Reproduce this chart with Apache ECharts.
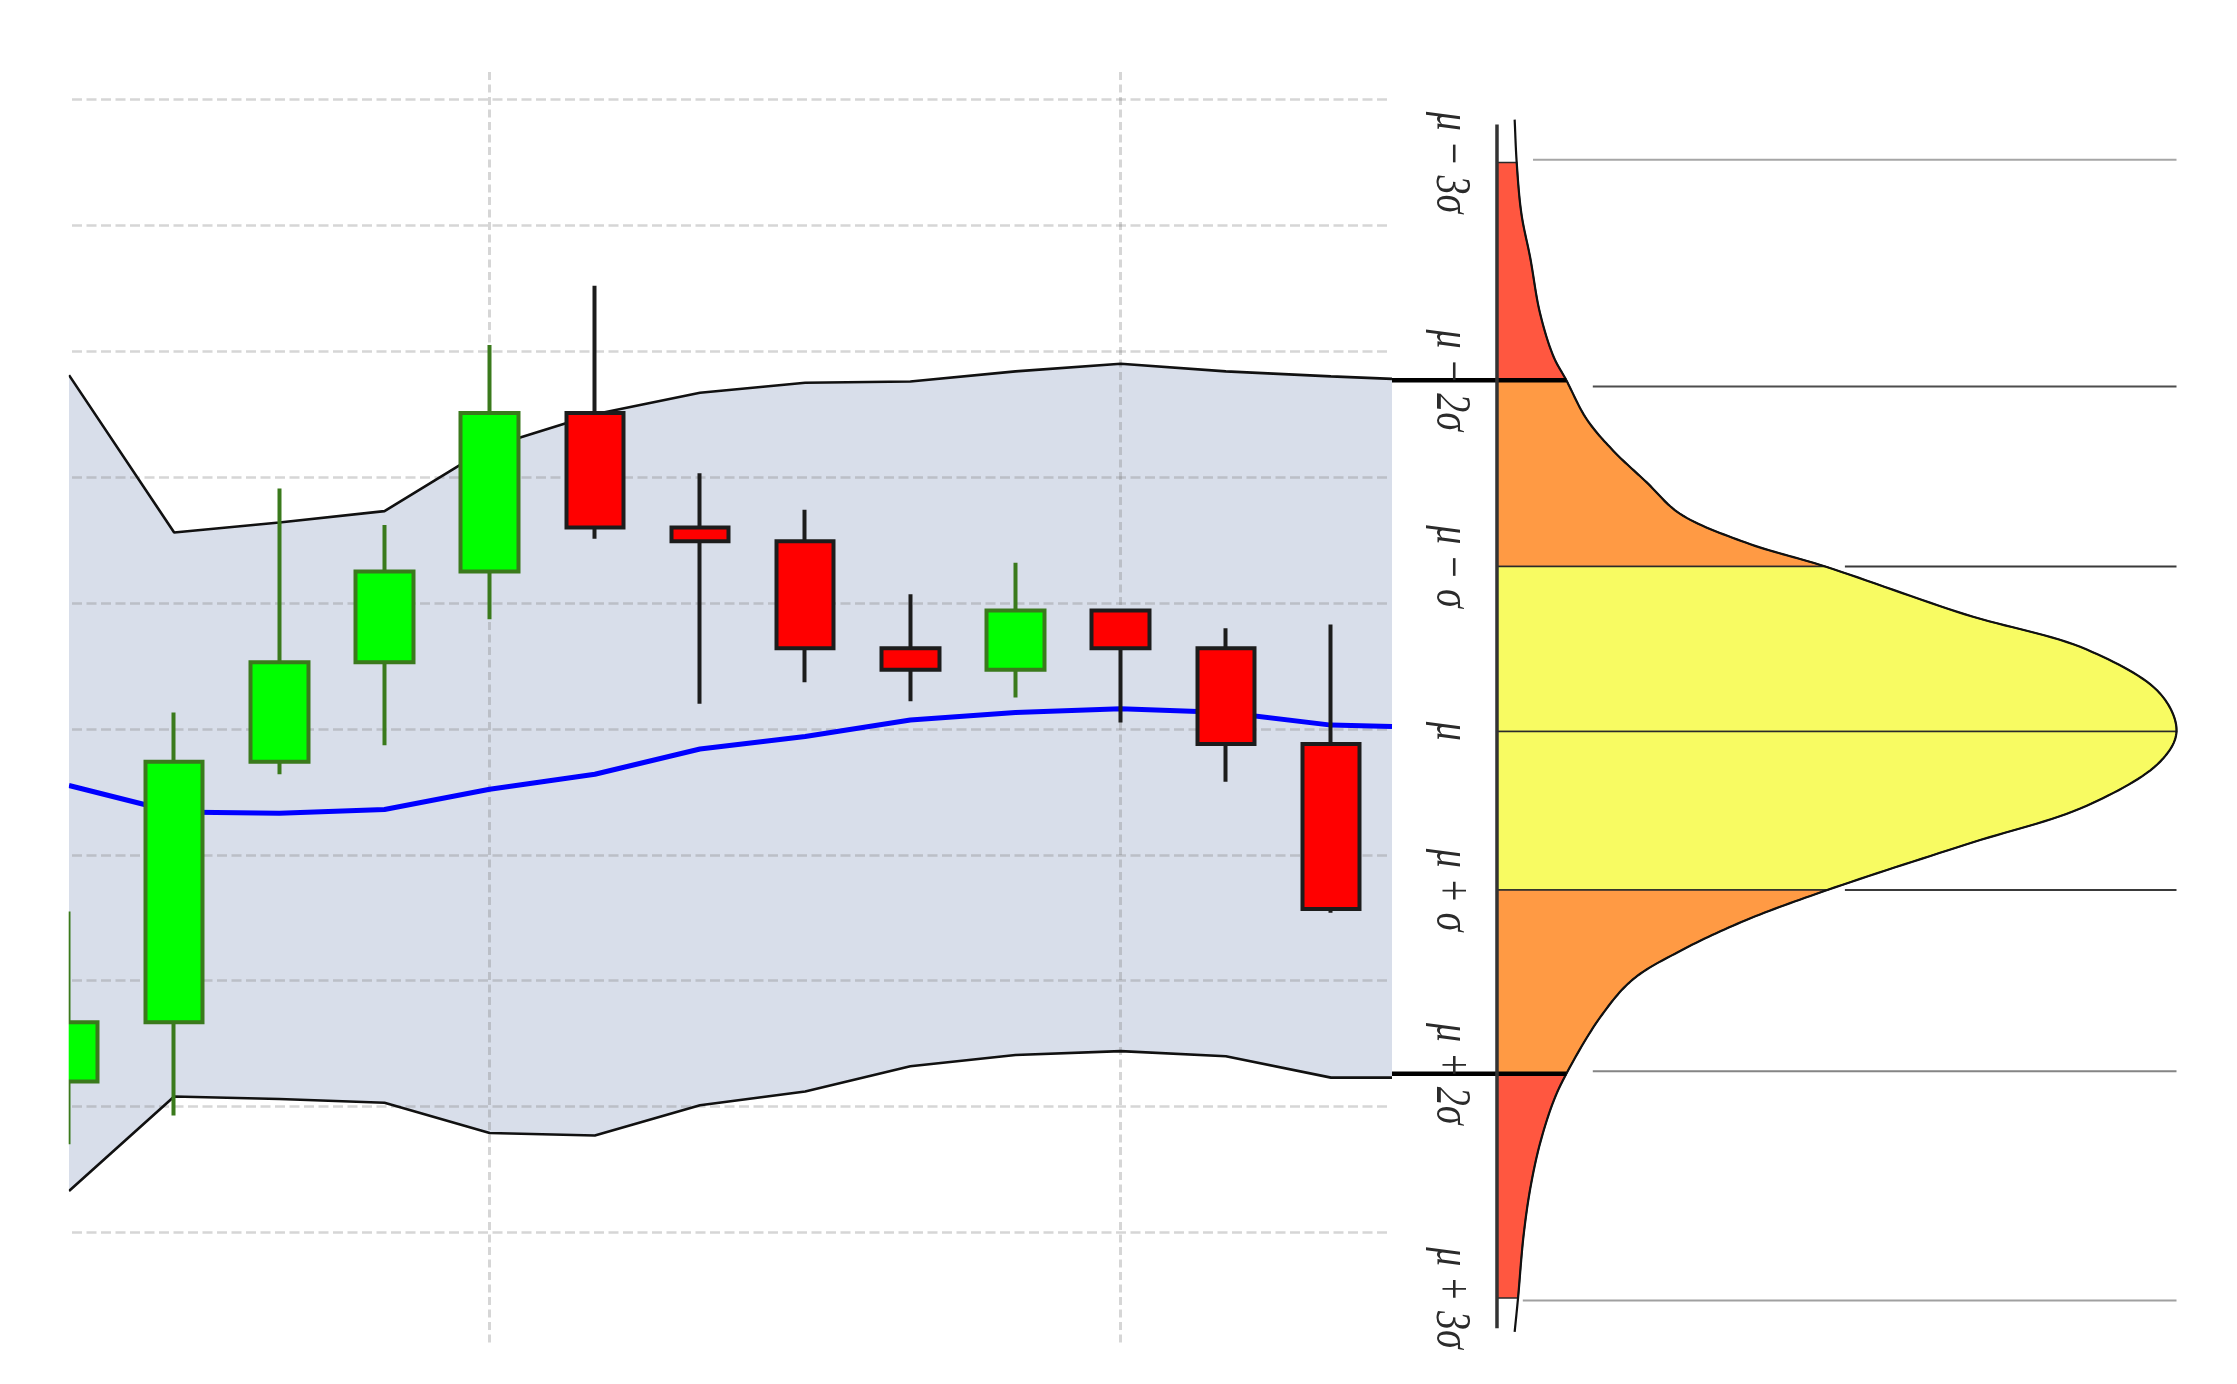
<!DOCTYPE html>
<html>
<head>
<meta charset="utf-8">
<title>Bollinger band candlestick with normal distribution</title>
<script src="https://cdn.jsdelivr.net/npm/echarts@6.0.0/dist/echarts.min.js"></script>
<style>
html, body { margin: 0; padding: 0; background: #ffffff; }
#chart { width: 2237px; height: 1384px; }
</style>
</head>
<body>
<div id="chart"></div>
<script>
// ------------------------------------------------------------------ data
// candles (one per day)
const days   = ['1', '2', '3', '4', '5', '6', '7', '8', '9', '10', '11', '12', '13'];
const dayIdx = [0, 1, 2, 3, 4, 5, 6, 7, 8, 9, 10, 11, 12];
const openP  = [97.20, 97.67, 99.74, 100.53, 101.25, 102.51, 101.60, 101.49, 100.64, 100.47, 100.94, 100.64, 99.88];
const closeP = [97.67, 99.74, 100.53, 101.25, 102.51, 101.60, 101.49, 100.64, 100.47, 100.94, 100.64, 99.88, 98.57];
const lowP   = [96.70, 96.93, 99.64, 99.87, 100.87, 101.51, 100.20, 100.37, 100.22, 100.25, 100.05, 99.58, 98.54];
const highP  = [98.55, 100.13, 101.91, 101.62, 103.05, 103.52, 102.03, 101.74, 101.07, 101.32, 100.94, 100.80, 100.83];

// Bollinger band and moving average (last point = right edge of the plot)
const bandX     = [0, 1, 2, 3, 4, 5, 6, 7, 8, 9, 10, 11, 12, 12.58];
const bandUpper = [102.81, 101.56, 101.64, 101.73, 102.24, 102.50, 102.67, 102.75, 102.76, 102.84, 102.90, 102.84, 102.80, 102.78];
const bandLower = [96.33, 97.08, 97.06, 97.03, 96.79, 96.77, 97.01, 97.12, 97.32, 97.41, 97.44, 97.40, 97.23, 97.23];
const movingAvg = [99.55, 99.34, 99.33, 99.36, 99.52, 99.64, 99.84, 99.94, 100.07, 100.13, 100.16, 100.13, 100.03, 100.02];

// horizontal grid values
const gridValues = [96, 97, 98, 99, 100, 101, 102, 103, 104, 105];

// distribution panel
const levelNames  = ['μ − 3σ', 'μ − 2σ', 'μ − σ', 'μ', 'μ + σ', 'μ + 2σ', 'μ + 3σ'];
const levelValues = [104.50, 102.77, 101.29, 99.98, 98.72, 97.26, 95.48];
const leaderValues = [104.52, 102.72, 101.29, 98.72, 97.28, 95.46];
const curvePrice   = [104.84, 104.50, 104.09, 103.74, 103.31, 102.96, 102.77, 102.46, 102.21, 101.96, 101.71, 101.48, 101.29,
                      100.91, 100.63, 100.28, 99.98, 99.74, 99.39, 99.08, 98.72, 98.48, 98.24, 98.01, 97.71, 97.26,
                      97.04, 96.70, 96.35, 95.97, 95.48, 95.21];
const curveDensity = [0.026, 0.029, 0.036, 0.049, 0.063, 0.083, 0.102, 0.132, 0.171, 0.220, 0.269, 0.366, 0.483,
                      0.689, 0.868, 0.976, 1.000, 0.976, 0.868, 0.689, 0.486, 0.366, 0.271, 0.200, 0.152, 0.102,
                      0.083, 0.063, 0.049, 0.039, 0.031, 0.026];
const distAxisRange = [104.80, 95.24];

// ------------------------------------------------------------------ layout / style
const GRID_LEFT = 69;
const Y_MIN = 95.106, Y_MAX = 105.218;
const RIGHT_X_MIN = -0.1545;
const LABEL_X = -0.068;
const leaderStart = [0.053, 0.141, 0.512, 0.512, 0.141, 0.038];
const leaderColor = ['#a6a6a6', '#4d4d4d', '#3a3a3a', '#3a3a3a', '#858585', '#a0a0a0'];
const regionColors = ['#ff5740', '#ff9a44', '#f8fb62', '#f8fb62', '#ff9a44', '#ff5740'];
const gridDash = 'rgba(120,120,120,0.3)';

const chart = echarts.init(document.getElementById('chart'), null, { renderer: 'canvas' });

function curveIndexOf(v) {
  for (let k = 0; k < curvePrice.length; k++) if (curvePrice[k] === v) return k;
  return -1;
}
function densityAt(v) { return curveDensity[curveIndexOf(v)]; }

// centripetal Catmull-Rom through the read curve points (drawing only)
function crPoint(p0, p1, p2, p3, u) {
  function d(a, b) { return Math.max(Math.pow(Math.hypot(b[0] - a[0], b[1] - a[1]), 0.5), 1e-4); }
  const t0 = 0, t1 = t0 + d(p0, p1), t2 = t1 + d(p1, p2), t3 = t2 + d(p2, p3);
  const t = t1 + (t2 - t1) * u;
  function lerp(a, b, ta, tb) {
    return [(tb - t) / (tb - ta) * a[0] + (t - ta) / (tb - ta) * b[0],
            (tb - t) / (tb - ta) * a[1] + (t - ta) / (tb - ta) * b[1]];
  }
  const A1 = lerp(p0, p1, t0, t1), A2 = lerp(p1, p2, t1, t2), A3 = lerp(p2, p3, t2, t3);
  const B1 = lerp(A1, A2, t0, t2), B2 = lerp(A2, A3, t1, t3);
  return lerp(B1, B2, t1, t2);
}
function curveSegments(api) {
  const P = curvePrice.map(function (p, k) { return api.coord([curveDensity[k], p]); });
  const segs = [];
  for (let k = 0; k < P.length - 1; k++) {
    const p1 = P[k], p2 = P[k + 1];
    const p0 = k > 0 ? P[k - 1] : [2 * p1[0] - p2[0], 2 * p1[1] - p2[1]];
    const p3 = k + 2 < P.length ? P[k + 2] : [2 * p2[0] - p1[0], 2 * p2[1] - p1[1]];
    const seg = [];
    const N = 16;
    for (let s = 0; s <= N; s++) seg.push(crPoint(p0, p1, p2, p3, s / N));
    segs.push(seg);
  }
  return segs;
}
function curvePath(segs, a, b) {
  const out = [];
  for (let k = a; k < b; k++) {
    const seg = segs[k];
    for (let s = (k === a ? 0 : 1); s < seg.length; s++) out.push(seg[s]);
  }
  return out;
}

const series = [];

// band fill
series.push({
  type: 'custom', xAxisIndex: 0, yAxisIndex: 0, z: 0, silent: true,
  data: [[0, bandUpper[0]]],
  renderItem: function (params, api) {
    const pts = [];
    for (let i = 0; i < bandX.length; i++) pts.push(api.coord([bandX[i], bandUpper[i]]));
    for (let i = bandX.length - 1; i >= 0; i--) pts.push(api.coord([bandX[i], bandLower[i]]));
    return { type: 'polygon', shape: { points: pts }, style: { fill: '#d8deea' } };
  }
});

// band lines
[bandUpper, bandLower].forEach(function (arr) {
  series.push({
    type: 'line', xAxisIndex: 0, yAxisIndex: 0, z: 2, silent: true,
    symbol: 'none',
    data: bandX.map(function (x, i) { return [x, arr[i]]; }),
    lineStyle: { color: '#111111', width: 2.6 }
  });
});

// moving average
series.push({
  type: 'line', xAxisIndex: 0, yAxisIndex: 0, z: 2, silent: true,
  symbol: 'none',
  data: bandX.map(function (x, i) { return [x, movingAvg[i]]; }),
  lineStyle: { color: '#0000ff', width: 5 }
});

// candles
series.push({
  type: 'candlestick', xAxisIndex: 0, yAxisIndex: 0, z: 3, silent: true,
  clip: true,
  barWidth: 58,
  data: dayIdx.map(function (x, i) { return [x, openP[i], closeP[i], lowP[i], highP[i]]; }),
  itemStyle: {
    color: '#00ff00', color0: '#ff0000',
    borderColor: '#3a7a1c', borderColor0: '#1c1c1c',
    borderWidth: 4
  }
});

// ---- distribution panel: filled zones
series.push({
  type: 'custom', xAxisIndex: 3, yAxisIndex: 3, z: 2, silent: true,
  data: levelValues.slice(0, -1).map(function (v) { return [0, v]; }),
  renderItem: function (params, api) {
    const i = params.dataIndex;
    const hi = levelValues[i], lo = levelValues[i + 1];
    const segs = curveSegments(api);
    const pts = [api.coord([0, hi])].concat(curvePath(segs, curveIndexOf(hi), curveIndexOf(lo)));
    pts.push(api.coord([0, lo]));
    return { type: 'polygon', shape: { points: pts },
      style: { fill: regionColors[i], stroke: '#2a2a2a', lineWidth: 1.5 } };
  }
});

// curve outline
series.push({
  type: 'custom', xAxisIndex: 3, yAxisIndex: 3, z: 3, silent: true,
  data: [[0, curvePrice[0]]],
  renderItem: function (params, api) {
    const segs = curveSegments(api);
    return { type: 'polyline', shape: { points: curvePath(segs, 0, segs.length) },
      style: { stroke: '#111111', lineWidth: 2.2, fill: null } };
  }
});

// leader lines
leaderValues.forEach(function (v, i) {
  series.push({
    type: 'line', xAxisIndex: 3, yAxisIndex: 3, z: 2, silent: true,
    symbol: 'none',
    data: [[leaderStart[i], v], [1, v]],
    lineStyle: { color: leaderColor[i], width: 2 }
  });
});

// thick ±2σ lines
[levelValues[1], levelValues[5]].forEach(function (v) {
  series.push({
    type: 'line', xAxisIndex: 3, yAxisIndex: 3, z: 4, silent: true,
    symbol: 'none',
    data: [[RIGHT_X_MIN, v], [densityAt(v), v]],
    lineStyle: { color: '#000000', width: 4.5 }
  });
});

// vertical axis of the distribution
series.push({
  type: 'line', xAxisIndex: 3, yAxisIndex: 3, z: 4, silent: true,
  symbol: 'none',
  data: [[0, distAxisRange[0]], [0, distAxisRange[1]]],
  lineStyle: { color: '#333333', width: 3.5 }
});

// level labels
series.push({
  type: 'custom', xAxisIndex: 3, yAxisIndex: 3, z: 6, silent: true,
  data: levelValues.map(function (v) { return [0, v]; }),
  renderItem: function (params, api) {
    const p = api.coord([LABEL_X, api.value(1)]);
    return {
      type: 'text', x: p[0], y: p[1], rotation: -Math.PI / 2, scaleX: 1, scaleY: 1.35,
      style: {
        text: levelNames[params.dataIndex], align: 'center', verticalAlign: 'middle',
        fontSize: 38, fontFamily: 'Liberation Serif', fontStyle: 'italic', fill: '#2b2b2b'
      }
    };
  }
});

const option = {
  animation: false,
  backgroundColor: '#ffffff',
  // white margin left of the plot: hides the part of the first candle outside the plot area
  graphic: [{
    type: 'rect', left: 0, top: 0, z: 100, silent: true,
    shape: { width: GRID_LEFT - 0.3, height: 1384 },
    style: { fill: '#ffffff' }
  }],
  grid: [
    { left: GRID_LEFT, right: 845, top: 72, bottom: 39 },  // main
    { left: 72, right: 850, top: 99.5, bottom: 151.5 },    // horizontal grid lines
    { left: GRID_LEFT, right: 906, top: 72, bottom: 39 },  // vertical grid lines
    { left: 1392, right: 60.5, top: 72, bottom: 39 }       // distribution panel
  ],
  xAxis: [
    { gridIndex: 0, type: 'value', min: 0, max: bandX[bandX.length - 1], show: false },
    { gridIndex: 1, type: 'value', min: 0, max: 1, show: false },
    { gridIndex: 2, type: 'category', data: days, boundaryGap: false, z: 1,
      axisLine: { show: false }, axisTick: { show: false }, axisLabel: { show: false },
      splitLine: { show: true, interval: function (idx) { return idx % 6 === 4; },
        lineStyle: { color: gridDash, width: 3, type: [8, 4.5] } } },
    { gridIndex: 3, type: 'value', min: RIGHT_X_MIN, max: 1, show: false }
  ],
  yAxis: [
    { gridIndex: 0, type: 'value', min: Y_MIN, max: Y_MAX, show: false },
    { gridIndex: 1, type: 'value', min: gridValues[0], max: gridValues[gridValues.length - 1], interval: 1, z: 1,
      axisLine: { show: false }, axisTick: { show: false }, axisLabel: { show: false },
      splitLine: { show: true, lineStyle: { color: gridDash, width: 2.5, type: [10, 4.5] } } },
    { gridIndex: 2, type: 'value', min: 0, max: 1, show: false },
    { gridIndex: 3, type: 'value', min: Y_MIN, max: Y_MAX, show: false }
  ],
  series: series
};

chart.setOption(option);
</script>
</body>
</html>
